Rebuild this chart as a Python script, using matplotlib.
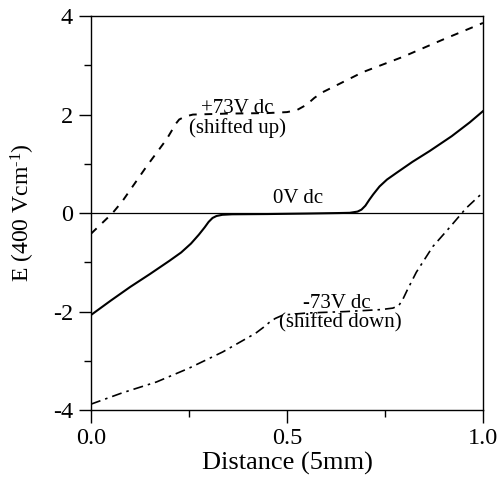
import matplotlib.pyplot as plt
import numpy as np

plt.rcParams['font.family'] = ['Liberation Serif', 'DejaVu Serif']
plt.rcParams['axes.unicode_minus'] = False
plt.rcParams['mathtext.fontset'] = 'custom'
plt.rcParams['mathtext.rm'] = 'Liberation Serif'
plt.rcParams['mathtext.it'] = 'Liberation Serif:italic'

# 0V dc
d_0v = [0, 0.05, 0.1, 0.15, 0.2, 0.23, 0.255, 0.275, 0.29, 0.30, 0.31, 0.32, 0.335,
        0.36, 0.45, 0.55, 0.63, 0.66, 0.68, 0.69, 0.70, 0.71, 0.72, 0.736, 0.755,
        0.78, 0.82, 0.864, 0.92, 0.966, 1.0]
e_0v = [-2.07, -1.78, -1.50, -1.24, -0.97, -0.80, -0.62, -0.44, -0.29, -0.18, -0.10, -0.06, -0.035,
        -0.025, -0.02, -0.01, 0.0, 0.005, 0.03, 0.07, 0.15, 0.27, 0.38, 0.54, 0.68,
        0.82, 1.04, 1.26, 1.56, 1.84, 2.07]

# +73V dc (shifted up)
d_pos = [0, 0.055, 0.08, 0.142, 0.193, 0.205, 0.215, 0.225, 0.24, 0.26, 0.35, 0.45,
         0.5, 0.525, 0.55, 0.57, 0.59, 0.693, 0.795, 0.897, 1.0]
e_pos = [-0.42, 0.0, 0.24, 0.95, 1.5, 1.66, 1.8, 1.9, 1.96, 2.0, 2.02, 2.03,
         2.05, 2.09, 2.2, 2.34, 2.45, 2.86, 3.17, 3.52, 3.86]

# -73V dc (shifted down)
d_neg = [0, 0.08, 0.167, 0.25, 0.336, 0.42, 0.44, 0.455, 0.47, 0.49, 0.55, 0.65, 0.74,
         0.77, 0.785, 0.795, 0.807, 0.83, 0.872, 0.914, 0.957, 1.0]
e_neg = [-3.88, -3.65, -3.43, -3.15, -2.82, -2.44, -2.32, -2.22, -2.14, -2.07, -2.03, -2.0, -1.96,
         -1.93, -1.88, -1.76, -1.56, -1.2, -0.68, -0.3, 0.1, 0.42]

fig = plt.figure(figsize=(5.0, 4.87), dpi=100)
ax = fig.add_axes([0.182, 0.158, 0.784, 0.809])

ax.axhline(0, color='black', linewidth=0.9)
ax.plot(d_0v, e_0v, color='black', linewidth=1.5, linestyle='-')
ax.plot(d_pos, e_pos, color='black', linewidth=1.4, linestyle=(0, (4, 4)))
ax.plot(d_neg, e_neg, color='black', linewidth=1.2, linestyle=(0, (6, 3, 1.5, 3)))

ax.text(0.372, 2.13, '+73V dc', ha='center', va='center', fontsize=15)
ax.text(0.374, 1.72, '(shifted up)', ha='center', va='center', fontsize=15)
ax.text(0.527, 0.3, '0V dc', ha='center', va='center', fontsize=15)
ax.text(0.627, -1.84, '-73V dc', ha='center', va='center', fontsize=15)
ax.text(0.637, -2.22, '(shifted down)', ha='center', va='center', fontsize=15)

ax.set_xlim(0, 1)
ax.set_ylim(-4, 4)
ax.set_xticks([0, 0.5, 1.0])
ax.set_xticklabels(['0.0', '0.5', '1.0'])
ax.set_xticks([0.25, 0.75], minor=True)
ax.set_yticks([-4, -2, 0, 2, 4])
ax.set_yticks([-3, -1, 1, 3], minor=True)
ax.tick_params(which='major', direction='out', length=9, width=1, labelsize=17.5, pad=4)
ax.tick_params(which='minor', direction='out', length=5, width=1)
for s in ax.spines.values():
    s.set_linewidth(1)

ax.set_xlabel('Distance (5mm)', fontsize=19, labelpad=2)
ax.set_ylabel(r'E (400 Vcm$^{\text{-}1}$)', fontsize=17, labelpad=11)

fig.savefig('out.png', dpi=100)
